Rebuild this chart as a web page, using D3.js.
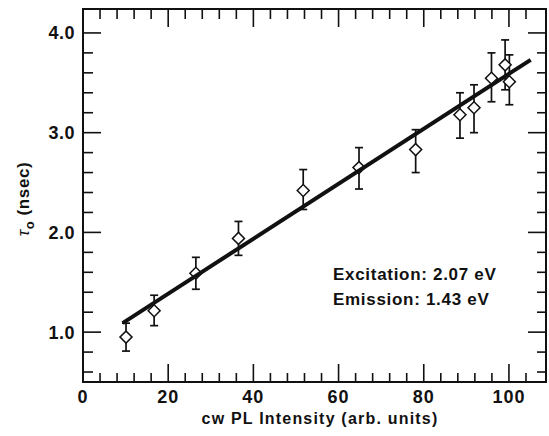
<!DOCTYPE html>
<html><head><meta charset="utf-8">
<script src="https://cdn.jsdelivr.net/npm/d3@7"></script>
<style>
body{margin:0;background:#fff;}
text{font-family:"Liberation Sans",Arial,sans-serif;fill:#111;}
</style></head>
<body><svg id="c" width="549" height="436"></svg>
<script>
// Data
const intensity = [10.1, 16.7, 26.5, 36.5, 51.7, 64.8, 78.1, 88.5, 91.8, 95.9, 99.1, 100.1];
const tau       = [0.95, 1.215, 1.59, 1.94, 2.42, 2.65, 2.83, 3.18, 3.25, 3.545, 3.68, 3.51];
const errUp     = [1.09, 1.37, 1.75, 2.11, 2.63, 2.85, 3.03, 3.40, 3.48, 3.80, 3.93, 3.78];
const errDown   = [0.81, 1.065, 1.43, 1.77, 2.23, 2.435, 2.60, 2.945, 3.00, 3.31, 3.43, 3.28];
const fitX = [9.3, 105.1];
const fitY = [1.09, 3.73];
const xTicks = [0, 20, 40, 60, 80, 100];
const yTicks = [1.0, 2.0, 3.0, 4.0];
const xLabel = "cw PL Intensity (arb. units)";
const notes = ["Excitation: 2.07 eV", "Emission: 1.43 eV"];

const svg = d3.select("#c");
const L = 83, R = 546, T = 9, B = 382;
const x = d3.scaleLinear().domain([0, 108.7]).range([L, R]);
const y = d3.scaleLinear().domain([0.5, 4.24]).range([B, T]);

// frame
svg.append("rect").attr("x", L).attr("y", T).attr("width", R - L).attr("height", B - T)
  .attr("fill", "none").attr("stroke", "#111").attr("stroke-width", 2);

const xMinor = d3.range(4, 108, 4).filter(v => v % 20 !== 0);
const yMinor = d3.range(0.6, 4.1, 0.2).map(v => +v.toFixed(1)).filter(v => Math.abs(v - Math.round(v)) > 0.01);

const g = svg.append("g").attr("stroke", "#111").attr("stroke-width", 1.6);
xTicks.filter(v => v > 0).forEach(v => {
  g.append("line").attr("x1", x(v)).attr("x2", x(v)).attr("y1", B).attr("y2", B - 18);
  g.append("line").attr("x1", x(v)).attr("x2", x(v)).attr("y1", T).attr("y2", T + 18);
});
xMinor.forEach(v => {
  g.append("line").attr("x1", x(v)).attr("x2", x(v)).attr("y1", B).attr("y2", B - 9);
  g.append("line").attr("x1", x(v)).attr("x2", x(v)).attr("y1", T).attr("y2", T + 10);
});
yTicks.forEach(v => {
  g.append("line").attr("x1", L).attr("x2", L + 18).attr("y1", y(v)).attr("y2", y(v));
  g.append("line").attr("x1", R).attr("x2", R - 18).attr("y1", y(v)).attr("y2", y(v));
});
yMinor.forEach(v => {
  g.append("line").attr("x1", L).attr("x2", L + 10).attr("y1", y(v)).attr("y2", y(v));
  g.append("line").attr("x1", R).attr("x2", R - 9).attr("y1", y(v)).attr("y2", y(v));
});

// tick labels
svg.selectAll(".xt").data(xTicks).enter().append("text")
  .attr("x", d => x(d)).attr("y", 403).attr("text-anchor", "middle")
  .attr("font-size", 18).attr("font-weight", "bold").attr("letter-spacing", 1)
  .text(d => d);
svg.selectAll(".yt").data(yTicks).enter().append("text")
  .attr("x", 75).attr("y", d => y(d) + 6.5).attr("text-anchor", "end")
  .attr("font-size", 18).attr("font-weight", "bold").attr("letter-spacing", 0.5)
  .text(d => d.toFixed(1));

// axis labels
svg.append("text").attr("x", 320).attr("y", 424).attr("text-anchor", "middle")
  .attr("font-size", 16).attr("font-weight", "bold").attr("letter-spacing", 1.2)
  .text(xLabel);
const yl = svg.append("text").attr("transform", "translate(29,199) rotate(-90)")
  .attr("text-anchor", "middle").attr("font-size", 17).attr("font-weight", "bold").attr("letter-spacing", 0.6);
yl.append("tspan").attr("font-weight", "normal").attr("font-style", "italic").text("τ");
yl.append("tspan").attr("dy", 5).attr("font-size", 13).text("o");
yl.append("tspan").attr("dy", -5).text(" (nsec)");

// notes
svg.selectAll(".note").data(notes).enter().append("text")
  .attr("x", 333).attr("y", (d, i) => 280 + i * 25)
  .attr("font-size", 17).attr("font-weight", "bold").attr("letter-spacing", 0.7)
  .text(d => d);

// error bars
const pts = intensity.map((v, i) => ({x: v, y: tau[i], hi: errUp[i], lo: errDown[i]}));
const eb = svg.append("g").attr("stroke", "#111").attr("stroke-width", 1.7);
pts.forEach(p => {
  eb.append("line").attr("x1", x(p.x)).attr("x2", x(p.x)).attr("y1", y(p.hi)).attr("y2", y(p.lo));
  [p.hi, p.lo].forEach(v => eb.append("line").attr("x1", x(p.x) - 4).attr("x2", x(p.x) + 4).attr("y1", y(v)).attr("y2", y(v)));
});
// diamonds
svg.selectAll(".pt").data(pts).enter().append("path")
  .attr("d", d3.symbol(d3.symbolSquare, 72))
  .attr("transform", d => `translate(${x(d.x)},${y(d.y)}) rotate(45)`)
  .attr("fill", "#fff").attr("stroke", "#111").attr("stroke-width", 1.5);

// fit line
svg.append("line").attr("x1", x(fitX[0])).attr("y1", y(fitY[0])).attr("x2", x(fitX[1])).attr("y2", y(fitY[1]))
  .attr("stroke", "#111").attr("stroke-width", 4).attr("stroke-linecap", "butt");
</script></body></html>
